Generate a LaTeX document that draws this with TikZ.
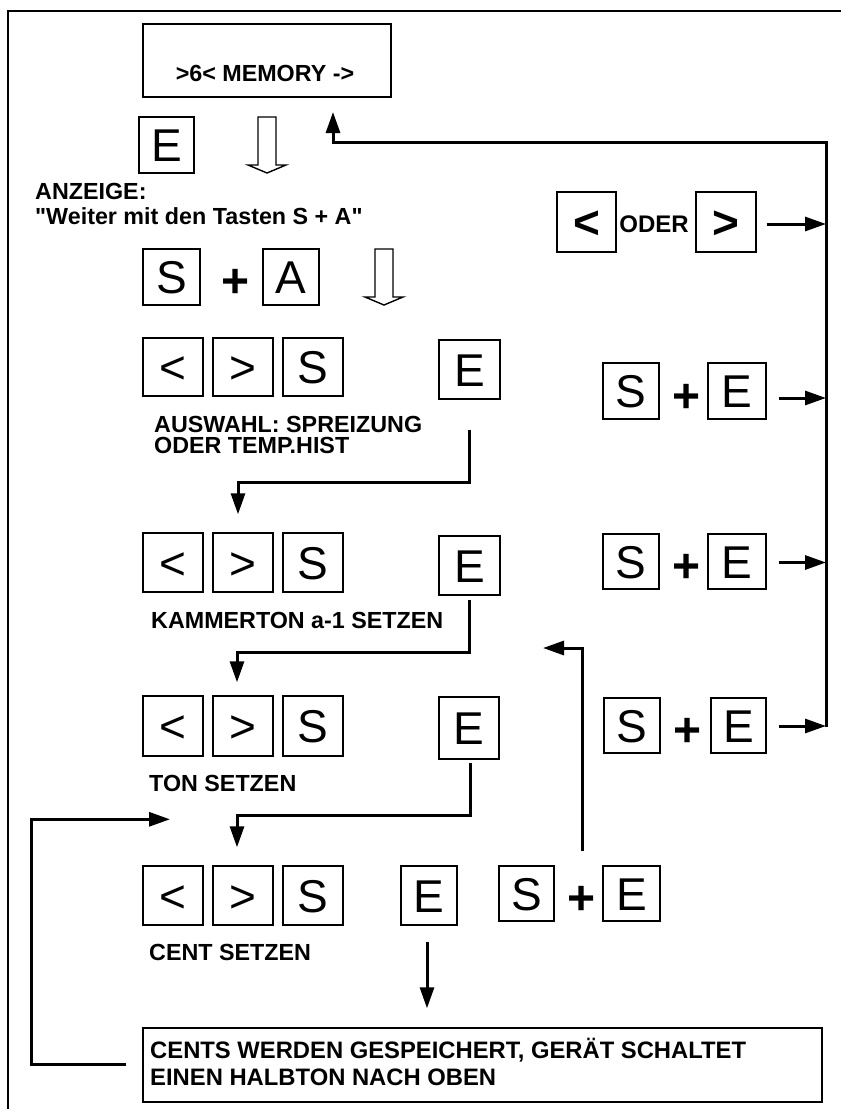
\documentclass[tikz,border=0pt]{standalone}
\usepackage{fontspec}
\setmainfont{Liberation Sans}
\newfontfamily\lfam{Liberation Sans}
\usetikzlibrary{arrows.meta,calc}
\newcommand\kfont{\fontsize{46}{46}\selectfont}
\newcommand\kbfont{\fontsize{46}{46}\selectfont\bfseries}
\newcommand\lfont{\lfam\fontsize{23.3}{27}\selectfont\bfseries}
\newcommand\pfont{\fontsize{48}{48}\selectfont\bfseries}
\begin{document}
\begin{tikzpicture}[x=1pt,y=-1pt,
  key/.style={draw, line width=1.4pt, inner sep=0pt, font=\kfont, text height=33pt, text depth=0pt, minimum width=57pt, minimum height=57pt},
  bkey/.style={key, font=\kbfont},
  lbl/.style={inner sep=0pt, anchor=base west, font=\lfont},
  plus/.style={inner sep=0pt, font=\pfont},
  conn/.style={line width=3pt, -{Triangle[length=21pt,width=14pt]}},
  box/.style={draw, line width=1.4pt, inner sep=0pt},
  hollow/.style={draw, line width=1.4pt, fill=white, line join=miter}]
\useasboundingbox (0,0) rectangle (841,1109);
% frame
\draw[line width=1.4pt] (841,11) -- (8,11) -- (8,1109);
% memory display
\node[box, minimum width=248pt, minimum height=73pt] (mem) at (267,60.5) {};
\node[inner sep=0pt, anchor=base, font=\lfont] (memtxt) at (265,81) {>6< MEMORY ->};
% E and hollow arrow
\node[key, minimum width=55pt, minimum height=56pt] (e0) at (166.5,145) {E};
\draw[hollow] (258,117) -- (276,117) -- (276,165) -- (286,165) -- (267,173) -- (248,165) -- (258,165) -- cycle;
\node[lbl] (anz1) at (35,199) {ANZEIGE:};
\node[lbl] (anz2) at (35,224) {"Weiter mit den Tasten S + A"};
% S + A
\node[key, minimum width=57pt, minimum height=56pt] (s0) at (171.5,277) {S};
\node[plus] (p0) at (236,283) {+};
\node[key, minimum width=56pt, minimum height=56pt] (a0) at (291,277) {A};
\draw[hollow] (375,249) -- (393,249) -- (393,297) -- (403,297) -- (384,305) -- (365,297) -- (375,297) -- cycle;
% ODER row
\node[bkey, minimum width=59pt, minimum height=60pt] (ol) at (586.5,222) {<};
\node[inner sep=0pt, font=\lfam\fontsize{24}{24}\selectfont\bfseries] (oder) at (654,224.5) {ODER};
\node[bkey, minimum width=60pt, minimum height=60pt] (or) at (726,222) {>};
% row 1
\node[key, minimum width=60pt, minimum height=58pt] (l1) at (173,367) {<};
\node[key, minimum width=60pt, minimum height=58pt] (r1) at (243,367) {>};
\node[key, minimum width=60pt, minimum height=58pt] (s1) at (313,367) {S};
\node[key, minimum width=61pt, minimum height=59pt] (e1) at (469.5,369.5) {E};
\node[lbl] (aus1) at (154,432) {AUSWAHL: SPREIZUNG};
\node[lbl] (aus2) at (154,453) {ODER TEMP.HIST};
% row 2
\node[key, minimum width=60pt, minimum height=59pt] (l2) at (173,562.5) {<};
\node[key, minimum width=60pt, minimum height=59pt] (r2) at (243,562.5) {>};
\node[key, minimum width=60pt, minimum height=59pt] (s2) at (313,562.5) {S};
\node[key, minimum width=61pt, minimum height=59pt] (e2) at (469.5,565.5) {E};
\node[lbl] (kam) at (151,628) {KAMMERTON a-1 SETZEN};
% row 3
\node[key, minimum width=60pt, minimum height=60pt] (l3) at (173,726) {<};
\node[key, minimum width=60pt, minimum height=60pt] (r3) at (243,726) {>};
\node[key, minimum width=60pt, minimum height=60pt] (s3) at (313,726) {S};
\node[key, minimum width=60pt, minimum height=62pt] (e3) at (469,728) {E};
\node[lbl] (ton) at (149,791) {TON SETZEN};
% row 4
\node[key, minimum width=60pt, minimum height=59pt] (l4) at (173,895.5) {<};
\node[key, minimum width=60pt, minimum height=59pt] (r4) at (243,895.5) {>};
\node[key, minimum width=60pt, minimum height=59pt] (s4x) at (313,895.5) {S};
\node[key, minimum width=56pt, minimum height=59pt] (e4) at (429,895.5) {E};
\node[key, minimum width=55pt, minimum height=55pt] (s4) at (526.5,893.5) {S};
\node[plus] (p4) at (582,900) {+};
\node[key, minimum width=57pt, minimum height=55pt] (e4b) at (631.5,893.5) {E};
\node[lbl] (cent) at (149,960) {CENT SETZEN};
% right column S + E
\node[key, minimum width=56pt, minimum height=56pt] (sa) at (631,391) {S};
\node[plus] (pa) at (687,398) {+};
\node[key, minimum width=58pt, minimum height=56pt] (ea) at (737,391) {E};
\node[key, minimum width=56pt, minimum height=55pt] (sb) at (631,561.5) {S};
\node[plus] (pb) at (687,568) {+};
\node[key, minimum width=58pt, minimum height=55pt] (eb) at (737,561.5) {E};
\node[key, minimum width=56pt, minimum height=55pt] (sc) at (632,725.5) {S};
\node[plus] (pc) at (688,732) {+};
\node[key, minimum width=55pt, minimum height=55pt] (ec) at (738.5,725.5) {E};
% bottom box
\node[box, minimum width=679pt, minimum height=74pt] (done) at (482.5,1065) {};
\node[lbl, font=\lfam\fontsize{23.8}{27}\selectfont\bfseries] (d1) at (150,1058) {CENTS WERDEN GESPEICHERT, GERÄT SCHALTET};
\node[lbl, font=\lfam\fontsize{23.8}{27}\selectfont\bfseries] (d2) at (150,1085) {EINEN HALBTON NACH OBEN};
% bus
\coordinate (bT) at (826,142);
\coordinate (bB) at (826,727);
\coordinate (mA) at (333,112);
\draw[conn] (bB) -- (bT) -| (mA);
\draw[conn] ($(or.east)+(10,2)$) -- (bT |- {$(or.east)+(10,2)$});
\draw[conn] ($(ea.east)+(12,7)$) -- (bT |- {$(ea.east)+(12,7)$});
\draw[conn] ($(eb.east)+(12,1)$) -- (bT |- {$(eb.east)+(12,1)$});
\draw[conn] ($(ec.east)+(12,0.5)$) -- (bT |- {$(ec.east)+(12,0.5)$});
% flow connectors
\draw[conn] ($(e1.south)+(0,30)$) -- ++(0,53) -| ($(r2.north)+(-5,-18)$);
\draw[conn] ($(e2.south)+(0,4)$) -- ++(0,53) -| ($(r3.north)+(-6,-13)$);
\draw[conn] ($(e3.south)+(1,3)$) -- ++(0,53) -| ($(r4.north)+(-6,-18)$);
\draw[conn] ($(e4.south)+(-2,16)$) -- ($(e4.south |- done.north)+(-2,-19)$);
\draw[conn] ($(done.west)+(-16,-1)$) -- ++(-95,0) |- ($(l4.north)+(-3,-46)$);
\draw[conn] ($(p4)+(0,-49)$) -- ++(0,-203) -- ++(-39,0);
\end{tikzpicture}
\end{document}
